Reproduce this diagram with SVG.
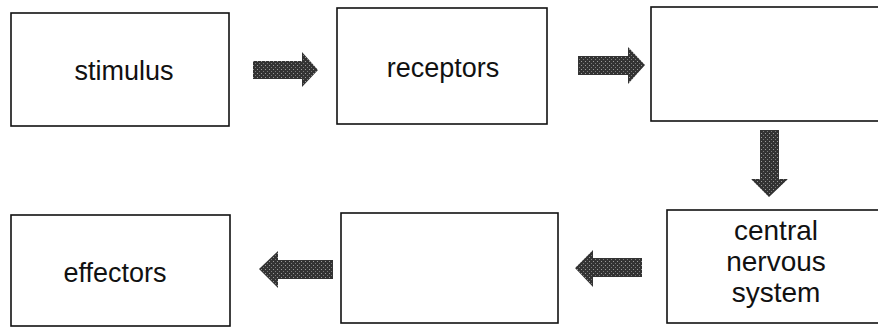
<svg xmlns="http://www.w3.org/2000/svg" width="878" height="327" viewBox="0 0 878 327">
  <style>
    .box { fill: #ffffff; stroke: #111111; stroke-width: 1.6; }
    .label { font-family: "Liberation Sans", Arial, sans-serif; font-size: 27px; fill: #111111; text-anchor: middle; }
    .cns-label { font-size: 28px; }
    .arrow { fill: url(#stipple); }
  </style>
  <defs>
    <!-- halftone-like dark grey fill for the block arrows -->
    <pattern id="stipple" width="4" height="4" patternUnits="userSpaceOnUse">
      <rect width="4" height="4" fill="#333333"/>
      <rect x="1" y="1" width="1" height="1" fill="#9a9a9a"/>
      <rect x="3" y="3" width="1" height="1" fill="#7a7a7a"/>
    </pattern>
  </defs>
  <rect width="878" height="327" fill="#ffffff"/>

  <g id="stimulus">
    <rect class="box" x="11" y="13" width="218" height="113"/>
    <text class="label" x="124" y="80">stimulus</text>
  </g>
  <g id="receptors">
    <rect class="box" x="337" y="8" width="210" height="116"/>
    <text class="label" x="443" y="77">receptors</text>
  </g>
  <g id="blank-top">
    <rect class="box" x="651" y="7" width="240" height="114"/>
  </g>
  <g id="cns">
    <rect class="box" x="667" y="210" width="230" height="113"/>
    <text class="label cns-label" x="776" y="240">central</text>
    <text class="label cns-label" x="776" y="271">nervous</text>
    <text class="label cns-label" x="776" y="302">system</text>
  </g>
  <g id="blank-bottom">
    <rect class="box" x="341" y="213" width="217" height="110"/>
  </g>
  <g id="effectors">
    <rect class="box" x="11" y="215" width="219" height="111"/>
    <text class="label" x="115" y="282">effectors</text>
  </g>

  <g id="connectors">
    <!-- stimulus to receptors -->
    <polygon class="arrow" points="253,61 302,61 302,52 318,70 302,87 302,79 253,79"/>
    <!-- receptors to top blank box -->
    <polygon class="arrow" points="578,56 628,56 628,47 645,65 628,84 628,75 578,75"/>
    <!-- top blank box down to central nervous system -->
    <polygon class="arrow" points="760,130 779,130 779,179 788,179 769,197 751,179 760,179"/>
    <!-- central nervous system to bottom blank box -->
    <polygon class="arrow" points="642,258 593,258 593,250 575,268 593,287 593,277 642,277"/>
    <!-- bottom blank box to effectors -->
    <polygon class="arrow" points="333,260 278,260 278,251 259,269 278,288 278,279 333,279"/>
  </g>
</svg>
